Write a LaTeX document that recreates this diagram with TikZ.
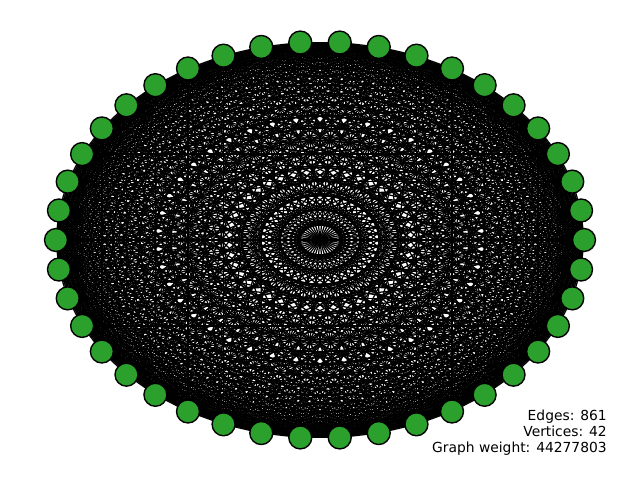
\documentclass[tikz,border=0pt]{standalone}
\usepackage{fontspec}
\setmainfont{DejaVu Sans}
\usetikzlibrary{positioning}
\pgfdeclarelayer{edges}
\pgfsetlayers{edges,main}
\definecolor{vertexgreen}{HTML}{2CA02C}
\tikzset{
    vertex/.style={circle, draw=black, fill=vertexgreen, line width=1pt,
        minimum size=16.6pt, inner sep=0pt},
    edge/.style={draw=black, line width=0.9pt},
}

\begin{document}
\begin{tikzpicture}[x=0.01in, y=-0.01in]
    \useasboundingbox (0,0) rectangle (640,480);

    % vertices on an ellipse
    \foreach \i in {0,...,41}
        \node[vertex] (v\i) at ({320+264*cos(\i*360/42)}, {240-198*sin(\i*360/42)}) {};

    % complete graph
    \begin{pgfonlayer}{edges}
        \foreach \i in {0,...,40} {
            \pgfmathtruncatemacro{\next}{\i+1}
            \foreach \j in {\next,...,41}
                \draw[edge] (v\i.center) -- (v\j.center);
        }
    \end{pgfonlayer}

    \node[anchor=base east, align=right, font=\fontsize{10pt}{11.6pt}\selectfont,
        inner sep=0pt] (stats) at (607,453)
        {Edges: 861\\Vertices: 42\\Graph weight: 44277803};
\end{tikzpicture}
\end{document}
